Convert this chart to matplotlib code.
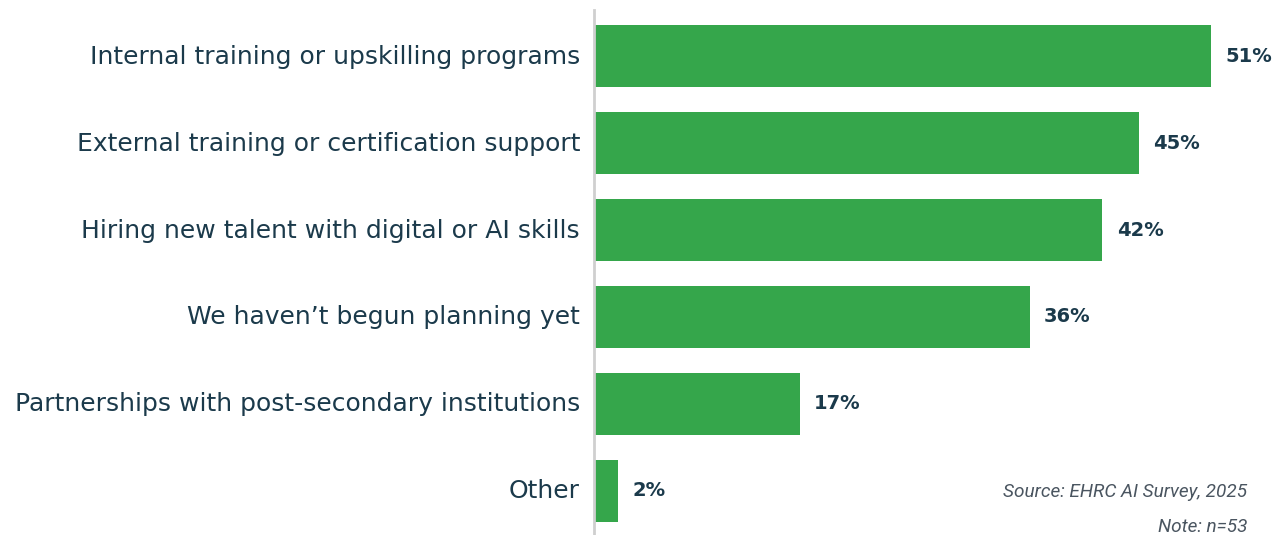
import matplotlib
matplotlib.use("Agg")
import matplotlib.pyplot as plt
import matplotlib.transforms as mtransforms

categories = [
    "Internal training or upskilling programs",
    "External training or certification support",
    "Hiring new talent with digital or AI skills",
    "We haven\u2019t begun planning yet",
    "Partnerships with post-secondary institutions",
    "Other",
]
values = [51, 45, 42, 36, 17, 2]
value_labels = [f"{v}%" for v in values]

GREEN = "#35A64B"
TEXT = "#1B3A4B"

fig = plt.figure(figsize=(12.74, 5.35), dpi=100)
W, H = 1274, 535
ax = fig.add_axes([594 / W, 0, 1 - 594 / W, 1 - 10 / H])

ypos = list(range(len(categories)))
ax.barh(ypos, values, height=0.71, color=GREEN)
ax.set_xlim(0, 680 / 12.1)
ax.set_ylim(5.506, -0.529)

for y, v, lab in zip(ypos, values, value_labels):
    ax.text(v + 1.2, y, lab, va="center", ha="left", fontsize=14,
            fontweight="bold", color=TEXT, family="DejaVu Sans")

ax.set_yticks(ypos)
ax.set_yticklabels(categories, fontsize=18, color=TEXT, family="DejaVu Sans",
                   va="center_baseline")
ax.tick_params(axis="y", length=0, pad=10)
shift = mtransforms.ScaledTranslation(0, 2 / 100, fig.dpi_scale_trans)
for t in ax.get_yticklabels():
    t.set_transform(t.get_transform() + shift)
ax.set_xticks([])
for s in ["top", "right", "bottom"]:
    ax.spines[s].set_visible(False)
ax.spines["left"].set_color("#cfcfcf")
ax.spines["left"].set_linewidth(2)

fig.text(1247 / W, 1 - 492 / H, "Source: EHRC AI Survey, 2025", ha="right",
         va="center", fontsize=13.7, style="italic", color="#4a5560",
         family="Roboto")
fig.text(1247 / W, 1 - 527 / H, "Note: n=53", ha="right", va="center",
         fontsize=13.7, style="italic", color="#4a5560", family="Roboto")

fig.savefig("out.png", dpi=100)
